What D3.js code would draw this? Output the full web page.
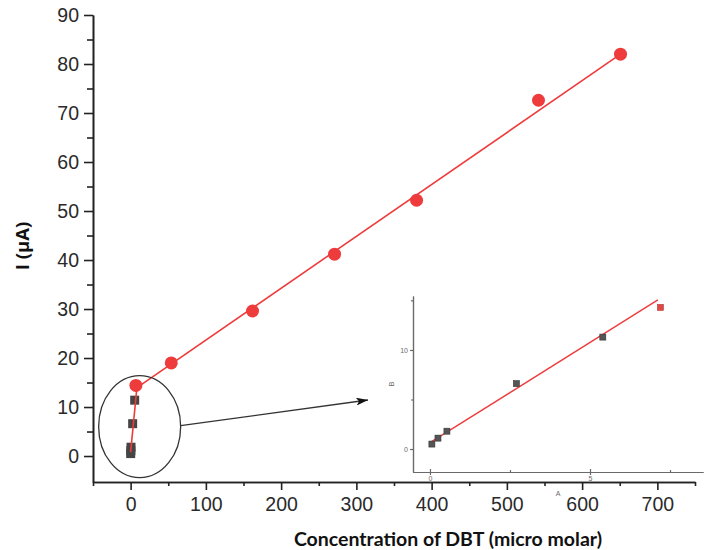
<!DOCTYPE html>
<html>
<head>
<meta charset="utf-8">
<script src="https://cdn.jsdelivr.net/npm/d3@7"></script>
<style>
  body { margin: 0; background: #fff; }
  svg { display: block; }
  .tick text { font-family: "Liberation Sans", Arial, sans-serif; }
</style>
</head>
<body>
<div id="chart"></div>
<script>
// main plot: concentration (micro molar) vs current (uA)
const circleX = [7, 54, 162, 271, 380, 542, 651];
const circleY = [14.4, 19.0, 29.6, 41.2, 52.2, 72.6, 82.0];
const squareX = [0.1, 0.3, 0.5, 2.7, 5.4];
const squareY = [0.5, 1.1, 1.8, 6.6, 11.4];
const lowFitX = [0, 9];
const lowFitY = [0.8, 15.0];
const highFitX = [7, 651];
const highFitY = [13.8, 82.0];
const xTicks = [0, 100, 200, 300, 400, 500, 600, 700];
const yTicks = [0, 10, 20, 30, 40, 50, 60, 70, 80, 90];

// inset plot
const insetX = [0.06, 0.25, 0.53, 2.7, 5.4];
const insetY = [0.5, 1.1, 1.8, 6.6, 11.3];
const insetRedX = [7.2];
const insetRedY = [14.3];
const insetFitX = [0.05, 7.12];
const insetFitY = [0.74, 15.05];
const insetXTicks = [0, 5];
const insetYTicks = [0, 10];

const width = 708, height = 550;
const red = "#ee3b3b", dark = "#454545";

const svg = d3.select("#chart").append("svg")
  .attr("width", width)
  .attr("height", height);

const x = d3.scaleLinear().domain([-50, 750]).range([93, 695]);
const y = d3.scaleLinear().domain([-5.3, 90]).range([482, 15]);

// axes
svg.append("g")
  .attr("transform", `translate(0,${y(-5.3)})`)
  .call(d3.axisBottom(x).tickValues(xTicks).tickSize(8).tickPadding(7).tickSizeOuter(0));
svg.append("g")
  .attr("transform", `translate(0,${y(-5.3)})`)
  .call(d3.axisBottom(x).tickValues(d3.range(-50, 751, 100)).tickSize(4).tickFormat("").tickSizeOuter(0));

svg.append("g")
  .attr("transform", `translate(${x(-50)},0)`)
  .call(d3.axisLeft(y).tickValues(yTicks).tickSize(9).tickPadding(5).tickSizeOuter(0));
svg.append("g")
  .attr("transform", `translate(${x(-50)},0)`)
  .call(d3.axisLeft(y).tickValues(d3.range(5, 90, 10)).tickSize(6).tickFormat("").tickSizeOuter(0));

svg.selectAll(".domain, .tick line").attr("stroke", "#222").attr("stroke-width", 1.6);
svg.selectAll(".tick text").attr("font-size", 19.5).attr("fill", "#2a2a2a");

// axis titles
svg.append("text")
  .attr("x", 448).attr("y", 546)
  .attr("text-anchor", "middle")
  .attr("font-family", "Lato, 'Open Sans', sans-serif")
  .attr("font-weight", "bold")
  .attr("font-size", 19.5)
  .attr("fill", "#111")
  .text("Concentration of DBT (micro molar)");

svg.append("text")
  .attr("transform", "translate(29,246) rotate(-90)")
  .attr("text-anchor", "middle")
  .attr("font-family", "'Open Sans', sans-serif")
  .attr("font-weight", "bold")
  .attr("font-size", 18.5)
  .attr("fill", "#111")
  .text("I (μA)");

// squares
svg.selectAll(".sq")
  .data(squareX.map((d, i) => ({x: d, y: squareY[i]})))
  .join("rect")
  .attr("class", "sq")
  .attr("x", d => x(d.x) - 4.5)
  .attr("y", d => y(d.y) - 4.5)
  .attr("width", 9).attr("height", 9)
  .attr("fill", dark);

// fit lines
const line = d3.line().x(d => x(d[0])).y(d => y(d[1]));
svg.append("path")
  .attr("d", line(lowFitX.map((d, i) => [d, lowFitY[i]])))
  .attr("fill", "none").attr("stroke", red).attr("stroke-width", 1.6);
svg.append("path")
  .attr("d", line(highFitX.map((d, i) => [d, highFitY[i]])))
  .attr("fill", "none").attr("stroke", red).attr("stroke-width", 1.6);

// circles
svg.selectAll(".pt")
  .data(circleX.map((d, i) => ({x: d, y: circleY[i]})))
  .join("circle")
  .attr("class", "pt")
  .attr("cx", d => x(d.x))
  .attr("cy", d => y(d.y))
  .attr("r", 6.5)
  .attr("fill", red);

// ellipse + arrow
svg.append("ellipse")
  .attr("cx", x(12)).attr("cy", y(6))
  .attr("rx", 41).attr("ry", 51)
  .attr("fill", "none").attr("stroke", "#333").attr("stroke-width", 1.3);

svg.append("defs").append("marker")
  .attr("id", "arrow")
  .attr("viewBox", "0 0 12 8")
  .attr("refX", 12).attr("refY", 4)
  .attr("markerWidth", 12).attr("markerHeight", 8)
  .attr("markerUnits", "userSpaceOnUse")
  .attr("orient", "auto")
  .append("path").attr("d", "M0,0 L12,4 L0,8 L3,4 Z").attr("fill", "#111");

svg.append("line")
  .attr("x1", x(12) + 41).attr("y1", y(6) - 1)
  .attr("x2", 368).attr("y2", 400)
  .attr("stroke", "#333").attr("stroke-width", 1.3)
  .attr("marker-end", "url(#arrow)");

// inset
const ix = d3.scaleLinear().domain([-0.53, 8.53]).range([413, 703]);
const iy = d3.scaleLinear().domain([-2.32, 15.45]).range([472, 296]);
const inset = svg.append("g");
const grey = "#6a6a6a";

inset.append("g")
  .attr("transform", `translate(0,${iy(-2.32)})`)
  .call(d3.axisBottom(ix).tickValues(insetXTicks).tickSize(3).tickPadding(1).tickSizeOuter(0))
  .call(g => g.selectAll(".tick line").attr("y1", -3));
inset.append("g")
  .attr("transform", `translate(0,${iy(-2.32)})`)
  .call(d3.axisBottom(ix).tickValues([2.5, 7.5]).tickSize(0).tickFormat("").tickSizeOuter(0))
  .call(g => g.selectAll(".tick line").attr("y1", -2));
inset.append("g")
  .attr("transform", `translate(${ix(-0.53)},0)`)
  .call(d3.axisLeft(iy).tickValues(insetYTicks).tickSize(3).tickPadding(2).tickSizeOuter(0));
inset.append("g")
  .attr("transform", `translate(${ix(-0.53)},0)`)
  .call(d3.axisLeft(iy).tickValues([5, 15]).tickSize(2).tickFormat("").tickSizeOuter(0));

inset.selectAll(".domain, .tick line").attr("stroke", grey).attr("stroke-width", 1.2);
inset.selectAll(".tick text").attr("font-size", 7).attr("fill", grey);

inset.append("text")
  .attr("x", 558).attr("y", 496)
  .attr("text-anchor", "middle")
  .attr("font-family", "'Liberation Sans', sans-serif")
  .attr("font-size", 7).attr("fill", grey)
  .text("A");
inset.append("text")
  .attr("transform", "translate(394,384) rotate(-90)")
  .attr("text-anchor", "middle")
  .attr("font-family", "'Liberation Sans', sans-serif")
  .attr("font-size", 8).attr("fill", grey)
  .text("B");

inset.append("path")
  .attr("d", d3.line().x(d => ix(d[0])).y(d => iy(d[1])) (insetFitX.map((d, i) => [d, insetFitY[i]])))
  .attr("fill", "none").attr("stroke", red).attr("stroke-width", 1.4);

inset.selectAll(".isq")
  .data(insetX.map((d, i) => ({x: d, y: insetY[i]})))
  .join("rect")
  .attr("class", "isq")
  .attr("x", d => ix(d.x) - 3).attr("y", d => iy(d.y) - 3)
  .attr("width", 6).attr("height", 6)
  .attr("fill", "#555").attr("stroke", "#333").attr("stroke-width", 0.6);

inset.selectAll(".ired")
  .data(insetRedX.map((d, i) => ({x: d, y: insetRedY[i]})))
  .join("rect")
  .attr("class", "ired")
  .attr("x", d => ix(d.x) - 3).attr("y", d => iy(d.y) - 3)
  .attr("width", 6).attr("height", 6)
  .attr("fill", "#e04848").attr("stroke", "#b33").attr("stroke-width", 0.6);
</script>
</body>
</html>
